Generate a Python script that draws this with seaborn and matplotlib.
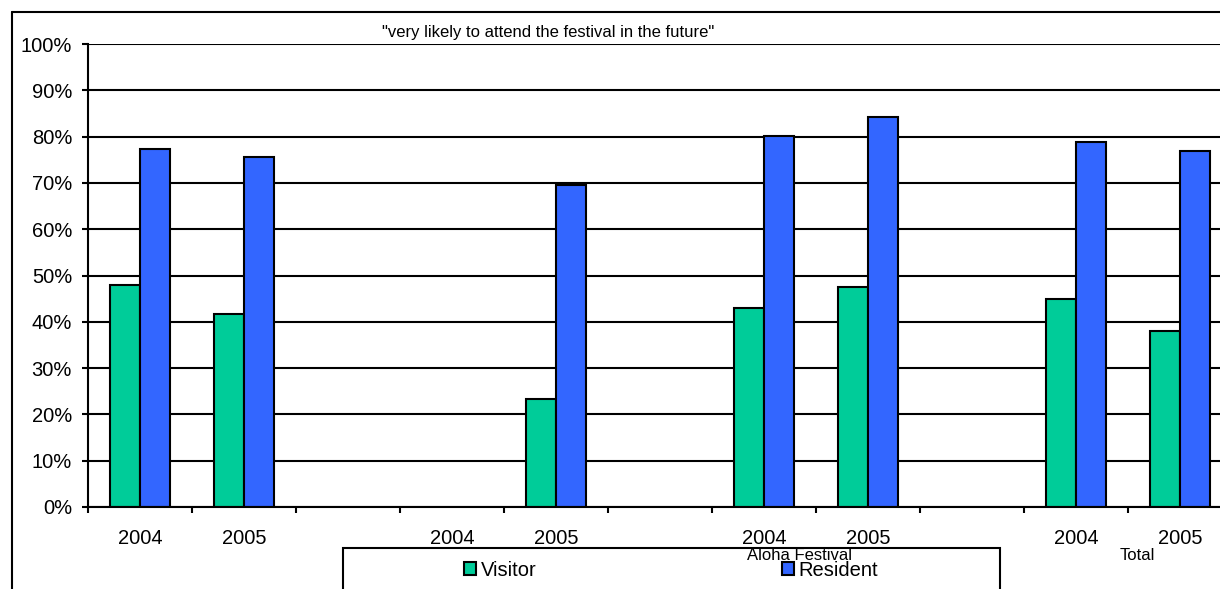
import numpy as np
import pandas as pd
import seaborn as sns
import matplotlib.pyplot as plt
from matplotlib.patches import Patch, Rectangle
from matplotlib.lines import Line2D
from matplotlib.ticker import PercentFormatter, FixedLocator

# Data (percent), 11 category slots incl. blank spacers
slot_labels = ["2004", "2005", "", "2004", "2005", "", "2004", "2005", "", "2004", "2005"]
visitor = [48.0, 41.6, np.nan, np.nan, 23.3, np.nan, 42.9, 47.5, np.nan, 44.9, 38.0]
resident = [77.3, 75.7, np.nan, np.nan, 69.5, np.nan, 80.2, 84.2, np.nan, 78.9, 76.9]
groups = ["Visitor", "Resident"]
colors = ["#00CC99", "#3366FF"]
group_labels = [("Aloha Festival", 6.34), ("Total", 9.59)]
title = '"very likely to attend the festival in the future"'

sns.set_theme(style="white")
plt.rcParams["font.family"] = ["Liberation Sans", "DejaVu Sans"]
plt.rcParams["text.color"] = "black"
plt.rcParams["xtick.labelcolor"] = "black"
plt.rcParams["ytick.labelcolor"] = "black"

# long format, blanks dropped
slots = list(range(len(slot_labels)))
df = pd.DataFrame({
    "slot": slots * 2,
    "who": ["Visitor"] * len(slots) + ["Resident"] * len(slots),
    "pct": visitor + resident,
}).dropna()

W, H = 1220, 589
fig = plt.figure(figsize=(W / 100, H / 100), dpi=100)
ax = fig.add_axes([88 / W, 1 - 507 / H, 1144 / W, 463 / H])

sns.barplot(data=df, x="slot", y="pct", hue="who", order=slots, hue_order=groups,
            palette=colors, width=0.57, gap=0, edgecolor="black", linewidth=1.5,
            saturation=1, legend=False, errorbar=None, ax=ax)

ax.set_xlim(-0.5, len(slots) - 0.5)
ax.set_ylim(0, 100)
ax.set_yticks(np.arange(0, 101, 10))
ax.yaxis.set_major_formatter(PercentFormatter(100, decimals=0))
ax.yaxis.grid(True, color="black", linewidth=1.5)
ax.set_axisbelow(True)

ax.set_xticks(slots)
ax.set_xticklabels(slot_labels)
ax.xaxis.set_minor_locator(FixedLocator(np.arange(-0.5, len(slots), 1.0)))
ax.tick_params(axis="x", which="major", length=0, pad=16, labelsize=14.5, colors="black")
ax.tick_params(axis="x", which="minor", bottom=True, length=4.5, width=1.5, color="black")
ax.tick_params(axis="y", left=True, length=4.5, width=1.5, pad=7, labelsize=14.5, colors="black")
ax.set_xlabel("")
ax.set_ylabel("")

for side in ["top", "right"]:
    ax.spines[side].set_visible(False)
for side in ["left", "bottom"]:
    ax.spines[side].set_color("black")
    ax.spines[side].set_linewidth(1.5)

# title
fig.text(548 / W, 1 - 33 / H, title, ha="center", va="center", fontsize=12, color="black")

# chart area frame (left and top edges visible)
fig.add_artist(Line2D([12 / W, 1], [1 - 12 / H] * 2, transform=fig.transFigure, color="black", lw=1.5))
fig.add_artist(Line2D([12 / W] * 2, [0, 1 - 12 / H], transform=fig.transFigure, color="black", lw=1.5))

# legend box
fig.add_artist(Rectangle((343 / W, -0.05), 657 / W, 0.05 + 1 - 548 / H, transform=fig.transFigure,
                         facecolor="white", edgecolor="black", lw=1.5, zorder=5))
handles = [Patch(facecolor=c, edgecolor="black", linewidth=1.5, label=g) for g, c in zip(groups, colors)]
leg = fig.legend(handles=handles, loc="center", bbox_to_anchor=(671 / W, 1 - 570 / H), ncol=2,
                 frameon=False, fontsize=14.5, handlelength=0.6, handleheight=0.6,
                 handletextpad=0.2, columnspacing=12.2, labelcolor="black")
leg.set_zorder(6)

# second level of category labels, drawn over the legend box
for text, xpos in group_labels:
    fig.text((88 + (xpos + 0.5) * 104) / W, 1 - 555 / H, text, ha="center", va="center",
             fontsize=12, color="black", zorder=7)

fig.savefig("out.png", dpi=100)
